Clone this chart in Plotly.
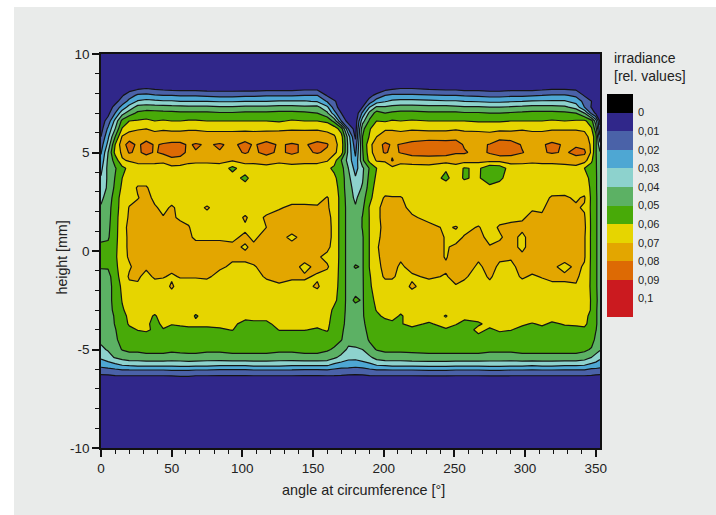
import plotly.graph_objects as go

angle = [0,5,10,15,20, 26,32,38,44,50,56,62,67,75,84,93,102,108,117,126,135,144,153,
         160,165,170,175,180,185,190,195,
         201,206,212,220,232,244,251,257,267,275,282,290,298,305,312,319,328,336,342,
         347,350,353]
height = [10,8.6,8.2,7.9,7.6,7.3,7,6.6,6.2,5.8,5.4,5,4.6,4.2,3.7,3.2,2.7,2.2,1.7,1.2,.7,.2,
          -.3,-.8,-1.3,-1.8,-2.5,-3,-3.3,-3.7,-4,-4.5,-5,-5.4,-5.8,-6.1,-6.4,-6.8,-10]
x_ticks = [0,50,100,150,200,250,300,350]
y_ticks = [-10,-5,0,5,10]
y_tick_labels = ["-10","-5","0","5","10"]

# irradiance in thousandths, one row per height (top to bottom)
irradiance_milli = [
[2,2,2,2,2, 2,2,2,2,2,2,2,2,2,2,2,2,2,2,2,2,2,2, 2,2,2,2,2,2,2,2, 2,2,2,2,2,2,2,2,2,2,2,2,2,2,2,2,2,2,2, 2,2,2],
[2,2,2,2,3, 3,3,3,3,3,3,3,3,2,2,2,2,2,3,3,3,3,3, 2,2,2,2,2,2,2,2, 3,3,3,3,3,3,3,3,2,2,2,3,3,3,3,3,3,3,2, 2,2,2],
[2,2,3,4,7, 10,11,10,9,8,8,8,8,7,7,7,7,7,8,8,8,9,9, 6,3,2,2,2,2,2,3, 8,10,11,11,10,9,9,8,8,7,7,8,8,8,9,10,10,9,5, 3,2,2],
[2,2,4,9,15, 22,23,21,20,20,19,19,19,18,17,17,18,18,19,19,19,20,20, 9,5,3,2,2,2,7,13, 20,22,22,22,21,20,20,19,18,17,17,18,18,19,20,21,21,18,9, 5,3,2],
[2,3,7,14,23, 31,33,32,31,31,30,30,30,30,29,29,30,30,30,31,31,31,29, 19,11,6,3,2,4,14,25, 29,32,33,33,32,31,31,30,29,28,28,29,30,31,31,31,31,26,17, 10,6,3],
[2,5,13,24,34, 44,45,44,44,43,43,42,42,42,41,41,42,42,42,43,43,42,43, 32,15,4,2,2,10,30,42, 41,43,44,44,43,43,42,41,41,40,40,41,42,43,43,43,42,36,20, 9,5,3],
[3,7,20,36,45, 52,54,54,53,53,52,52,52,52,51,51,52,52,52,53,53,52,50, 42,24,10,3,2,22,43,54, 50,52,53,53,52,52,52,51,51,50,50,51,52,53,53,53,52,50,40, 17,8,4],
[5,14,33,53,60, 61,62,60,61,60,60,61,61,60,60,60,60,60,60,59,61,60,60, 58,47,20,5,4,36,52,60, 59,61,60,61,60,60,60,60,59,59,59,60,60,60,60,61,60,61,62, 54,35,8],
[6,22,40,61,67, 69,70,68,69,68,68,69,69,68,68,68,68,68,68,68,69,69,69, 68,66,55,20,5,47,59,67, 69,69,68,69,68,68,69,68,68,67,68,68,69,68,68,69,69,69,68, 61,45,12],
[10,28,50,71,75, 76,75,74,74,75,75,74,74,74,74,74,75,74,75,76,75,74,75, 73,71,64,35,8,50,61,70, 74,74,74,75,76,76,77,75,74,74,76,75,75,74,74,75,75,75,74, 66,54,22],
[15,33,60,76,84, 78,84,79,81,82,82,79,81,79,81,78,83,79,83,79,81,79,83, 81,73,66,37,14,50,67,76, 82,79,80.5,83,85,84,84,79,78,80.5,86,85,79,78,79,82,79,79,77, 68,52,33],
[19,40,63,72,81, 78,83,79,82,85,83,78,79.5,78,79.5,77,81,78,83,78,82,78,81, 78,72,65,37,18,49,66,76, 81,78,80.5,84,85,84,81,81,77,81,85,84,80.5,77,79,81,79,82,82, 68,51,41],
[23,42,54,69,71, 72,73,72,72,77,77,72,72,72,72,71,73,72,74,72,73,72,72, 71,64,50,36,22,48,63,71, 71,81,73,74,74,74,74,74,73,73,73,74,73,72,72,72,73,77,74, 62,51,44],
[27,43,49,57,63, 67,66,67,66,67,66,67,66,66,67,57,66,67,67,66,67,67,67, 62,58,54,40,26,38,51,60, 66,67,66,66,67,61,66,59,62,52,54,65,66,66,67,67,67,66,60, 55,51,45],
[31,42,50.5,60,63, 66,66,66,65,65,65,65,65,65,65,65,57,65,65,65,65,65,65, 66,62,55,43,31,39,53,62, 66,65,65,65,65,58,64,59,62,50,58,65,65,65,65,65,65,65,64, 57,51,46],
[34,42,52,62,65, 71,71,66,66,66,66,66,66,65,65,65,65,65,65,66,66,66,66, 66,65,55,44,36,41,55,64, 66,66,66,65,65,65,65,65,65,65,64,65,65,65,65,66,67,66,66, 58,51,46],
[38,44,55,64,67, 69.5,73,68,67,67,67,66,66,65,65,65,65,65,65,68,68,68,67, 70.5,67,56,45,38,46,57,66, 71,70.5,70.5,67,66,65,65,65,65,65,65,66,66,66,67,71,71,69,71, 58,51,47],
[41,46,56,64,70.5, 73,74,71,68,71,68,67,67,71,66,65,66,66,67,69.5,71,71,71, 71,67,56,46,41,48,61,68, 73,73,72,68,67,66,65,65,66,65,66,67,67,69,69,73,73,71,69, 58,51,47],
[43,47,56,66,71, 74,74,73,70.5,71,69,68,67,67,66,66,71,67,71,72,73,73,73, 73,67,56,46,43,50.5,60.5,68, 73,74,73,71,68,67,66,66,67,66,67,69,69,72,71,74,74,73,71, 58,51,47],
[45,48,56,67,72, 74,74,74,73,73,72,70.5,67,67,67,67,69,68,70,73,74,74,74, 74,67,56,46,44,50.5,60.5,68, 72,74,74,74,72,69,70.5,68,70.5,67,71,71,72,73,73,74,74,74,72, 58,51,47],
[48,49,56,68,71, 74,74,74,74,74,73,71,69,69,69,69,71,69,72,73,68,73,74, 74,67,56,46,45,49,60.5,68, 73,74,74,74,74,69.5,68,70.5,72,68,69,73,68,74,74,74,74,74,71, 58,51,47],
[52,52,57,68,71, 74,74,74,74,74,73,71,72,72,72,71,69.5,71,73,73,73,74,74, 72,67,56,46,45,49,60.5,69, 74,74,74,74,74,69.5,71,73,72,70.5,72,73,68,74,74,74,74,73,71, 58,51,47],
[53,52,58,67,71, 74,73,74,74,73,73,73,73,73,73,71,71,72,73,73,74,73,71, 68,67,56,46,46,49,60.5,68, 74,73,71,74,74,69.5,73,74,71,72,71,71,72,74,74,74,74,73,71, 58,51,47],
[51,51,57,66,69, 73,71,73,72,72,72,72,72,72,71,69,69,69.5,72,73,73,68,72, 71,66,56,46,51,49,60.5,67, 73,72,69,72,73,71,74,73,69,72,69,68,73,73,73,72,67,72,69, 58,51,47],
[46,47,55,65,71, 71,68,71,70.5,69,70.5,70.5,70.5,71,68,67,67,67,71,72,71,71,69, 67,65,56,46,45,49,59,67, 71,71,68,69,71,69.5,72,71,67,71,67,67,71,69,70.5,72,72,71,68, 58,51,47],
[46,46,54,62,68, 69,66,67,67,71,67,67,67,67,66,66,66,66,67,69,68,68,71, 66,64,56,46,45,49,58,66, 67,67,67,71,67,67,69.5,68,66,68,66,66,67,67,67,68,68,69.5,67, 58,51,47],
[45,47,53,60.5,64, 65,65,65,65,66,65,65,65,65,65,65,65,65,65,66,66,66,65, 64,62,56,46,52,49,57,62, 65,66,66,66,65,65,65,65,65,65,65,65,65,65,65,65,65,65,66, 59,51,48],
[45,47,52,59,63, 64,64,63,65,64,65,65,63,65,65,65,65,65,65,65,65,65,65, 64,58,55,46,45,49,56,60.5, 65,65,62,65,65,63,65,65,65,65,65,65,65,65,65,65,65,65,65, 59,51,47],
[44,46,51,57,62, 63,63,59,64,64,64,64,59,64,64,64,63,63,63,64,64,64,64, 63,57,54,46,45,49,55,58, 62,63,59,64,64,59.5,64,62,63,64,64,64,64,64,64,63,64,64,63, 57,51,47],
[44,46,50.5,56,61, 62,62,57,62,60.5,61,62,62,62,62,62,57,58,58,63,63,63,62, 62,56,53,46,44,48,54,56, 56,58,59.5,62,59,63,60.5,58,59,62,63,63,61,59.5,61,59,60.5,61,62, 56,51,47],
[43,46,49.5,54,58, 60.3,61,59,59.5,57,58,58,58,58,59,60.3,55,56,56,60.3,60.3,60.3,59, 61,55,52,45,44,47,53,55, 54,56,57,58,57,59,57,56,62,59,61,60.3,58,57,58,57,58,58,58, 55,50.5,46],
[42,45,49,52,54, 55,56,55,55,55,55,55,55,55,55,55,54,54,54,55,55,55,55, 55,53,50.5,44,43,46,51,54, 54,54,55,55,55,55,55,55,57,55,56,55,55,55,55,55,55,55,55, 54,48,45],
[38,41,46,50.5,52, 52,53,53,53,52,53,53,53,52,52,53,53,53,53,52,52,53,53, 51,49,45,38,39,40,47,50.5, 52,52,52,52,53,53,53,53,53,52,52,52,53,53,53,53,53,53,52, 49,45,41],
[32,36,41,44,46, 46,47,47,47,46,46,47,47,46,46,47,47,47,47,46,46,47,47, 46,42,37,33,33,36,38,44, 46,46,46,47,47,47,47,47,47,46,46,46,47,47,47,47,47,47,45, 40,36,32],
[23,25,27,30,31, 32,32,32,32,32,33,33,32,32,31,31,31,32,32,32,31,31,31, 31,27,25,24,23,24,27,30, 31,32,32,32,33,33,32,32,32,33,33,32,32,31,32,32,31,31,30, 27,26,25],
[14,15,16,17,17, 17,17,17,17,18,18,18,17,17,16,16,16,17,17,17,17,16,16, 17,16,15,15,14,15,16,17, 17,17,17,17,18,18,17,17,17,18,18,17,17,17,17,17,17,17,17, 15,15,14],
[7,7,8,8,8, 8,8,8,8,8,9,9,8,8,8,8,8,8,8,8,8,8,8, 8,8,8,7,7,7,8,8, 8,8,8,8,8,8,8,8,8,8,8,8,8,8,8,8,8,8,8, 8,7,7],
[2,2,2,2,2, 2,2,2,2,2,2,2,2,2,2,2,2,2,2,2,2,2,2, 2,2,2,2,2,2,2,2, 2,2,2,2,2,2,2,2,2,2,2,2,2,2,2,2,2,2,2, 2,2,2],
[2,2,2,2,2, 2,2,2,2,2,2,2,2,2,2,2,2,2,2,2,2,2,2, 2,2,2,2,2,2,2,2, 2,2,2,2,2,2,2,2,2,2,2,2,2,2,2,2,2,2,2, 2,2,2],
]

band_colors = ["#000000","#30278a","#4a62a8","#4ea7d3","#8dd2cd","#5cb164",
               "#48aa08","#e6d500","#e3a600","#dd6a04","#cb1a1f","#cb1a1f"]
legend_levels = [0,.01,.02,.03,.04,.05,.06,.07,.08,.09,.1]
legend_labels = ["0","0,01","0,02","0,03","0,04","0,05","0,06","0,07","0,08","0,09","0,1"]
legend_centres = [-.005,.005,.015,.025,.035,.045,.055,.065,.075,.085,.095,.105]

for row in irradiance_milli:
    assert len(row) == len(angle), len(row)
assert len(irradiance_milli) == len(height)

z = [[v / 1000 for v in row] for row in irradiance_milli]
scale = [[i / 11, c] for i, c in enumerate(band_colors)]
W, H = 716, 515
FONT = "Liberation Sans"
INK = "#222222"

fig = go.Figure()
fig.add_trace(go.Contour(
    x=angle, y=height, z=z, colorscale=scale, showscale=False,
    autocontour=False,
    contours=dict(start=0, end=.1, size=.01, coloring="fill"),
    line=dict(color="#141414", width=1.2, smoothing=0),
    hoverinfo="skip", xaxis="x", yaxis="y"))
fig.add_trace(go.Heatmap(
    x=[0], y=legend_centres, z=[[i] for i in range(12)], zmin=0, zmax=11,
    colorscale=scale, showscale=False, hoverinfo="skip", xaxis="x2", yaxis="y2"))

axis_common = dict(showgrid=False, zeroline=False, showline=True, linecolor="#111111",
                   linewidth=1.5, mirror=True, ticks="outside", ticklen=7, tickwidth=1.5,
                   automargin=False, tickcolor="#111111",
                   tickfont=dict(family=FONT, size=13.5, color=INK))
fig.update_layout(
    width=W, height=H, autosize=False, margin=dict(l=0, r=0, t=0, b=0),
    paper_bgcolor="#ffffff", plot_bgcolor="#e9ebea", showlegend=False,
    font=dict(family=FONT, color=INK, size=13),
    shapes=[dict(type="rect", xref="paper", yref="paper", x0=14/W, x1=1, y0=0, y1=1-7/H,
                 fillcolor="#e9ebea", line=dict(width=0), layer="below")],
    xaxis=dict(domain=[101/W, 600/W], range=[0, 353], tickmode="array", tickvals=x_ticks,
               minor=dict(ticks="outside", dtick=10, ticklen=4, tickwidth=1.2, tickcolor="#111111"),
               **axis_common),
    yaxis=dict(domain=[(H-448)/H, (H-54)/H], range=[-10, 10], tickmode="array", tickvals=y_ticks,
               ticktext=y_tick_labels,
               minor=dict(ticks="outside", dtick=1, ticklen=4, tickwidth=1.2, tickcolor="#111111"),
               **axis_common),
    xaxis2=dict(domain=[607/W, 633/W], anchor="y2", visible=False, range=[-.5, .5], automargin=False),
    yaxis2=dict(domain=[(H-317)/H, (H-94)/H], anchor="x2", side="right", range=[.11, -.01],
                tickmode="array", tickvals=legend_levels, ticktext=legend_labels, automargin=False,
                ticks="", ticklabelstandoff=4, showgrid=False, zeroline=False, showline=False,
                tickfont=dict(family=FONT, size=11, color=INK)),
    annotations=[
        dict(text="angle at circumference [°]", x=363.5/W, y=1-490/H, xref="paper", yref="paper",
             xanchor="center", yanchor="middle", showarrow=False,
             font=dict(family=FONT, size=14.4, color=INK)),
        dict(text="height [mm]", x=61/W, y=1-257.5/H, xref="paper", yref="paper", textangle=-90,
             xanchor="center", yanchor="middle", showarrow=False,
             font=dict(family=FONT, size=14.2, color=INK)),
        dict(text="irradiance", x=612/W, y=1-58/H, xref="paper", yref="paper",
             xanchor="left", yanchor="middle", showarrow=False,
             font=dict(family=FONT, size=14, color=INK)),
        dict(text="[rel. values]", x=612/W, y=1-76/H, xref="paper", yref="paper",
             xanchor="left", yanchor="middle", showarrow=False,
             font=dict(family=FONT, size=14, color=INK)),
    ],
)
fig.write_html("out.html", config={"displayModeBar": False},
               post_script="document.body.style.margin='0';document.documentElement.style.overflow='hidden';")
